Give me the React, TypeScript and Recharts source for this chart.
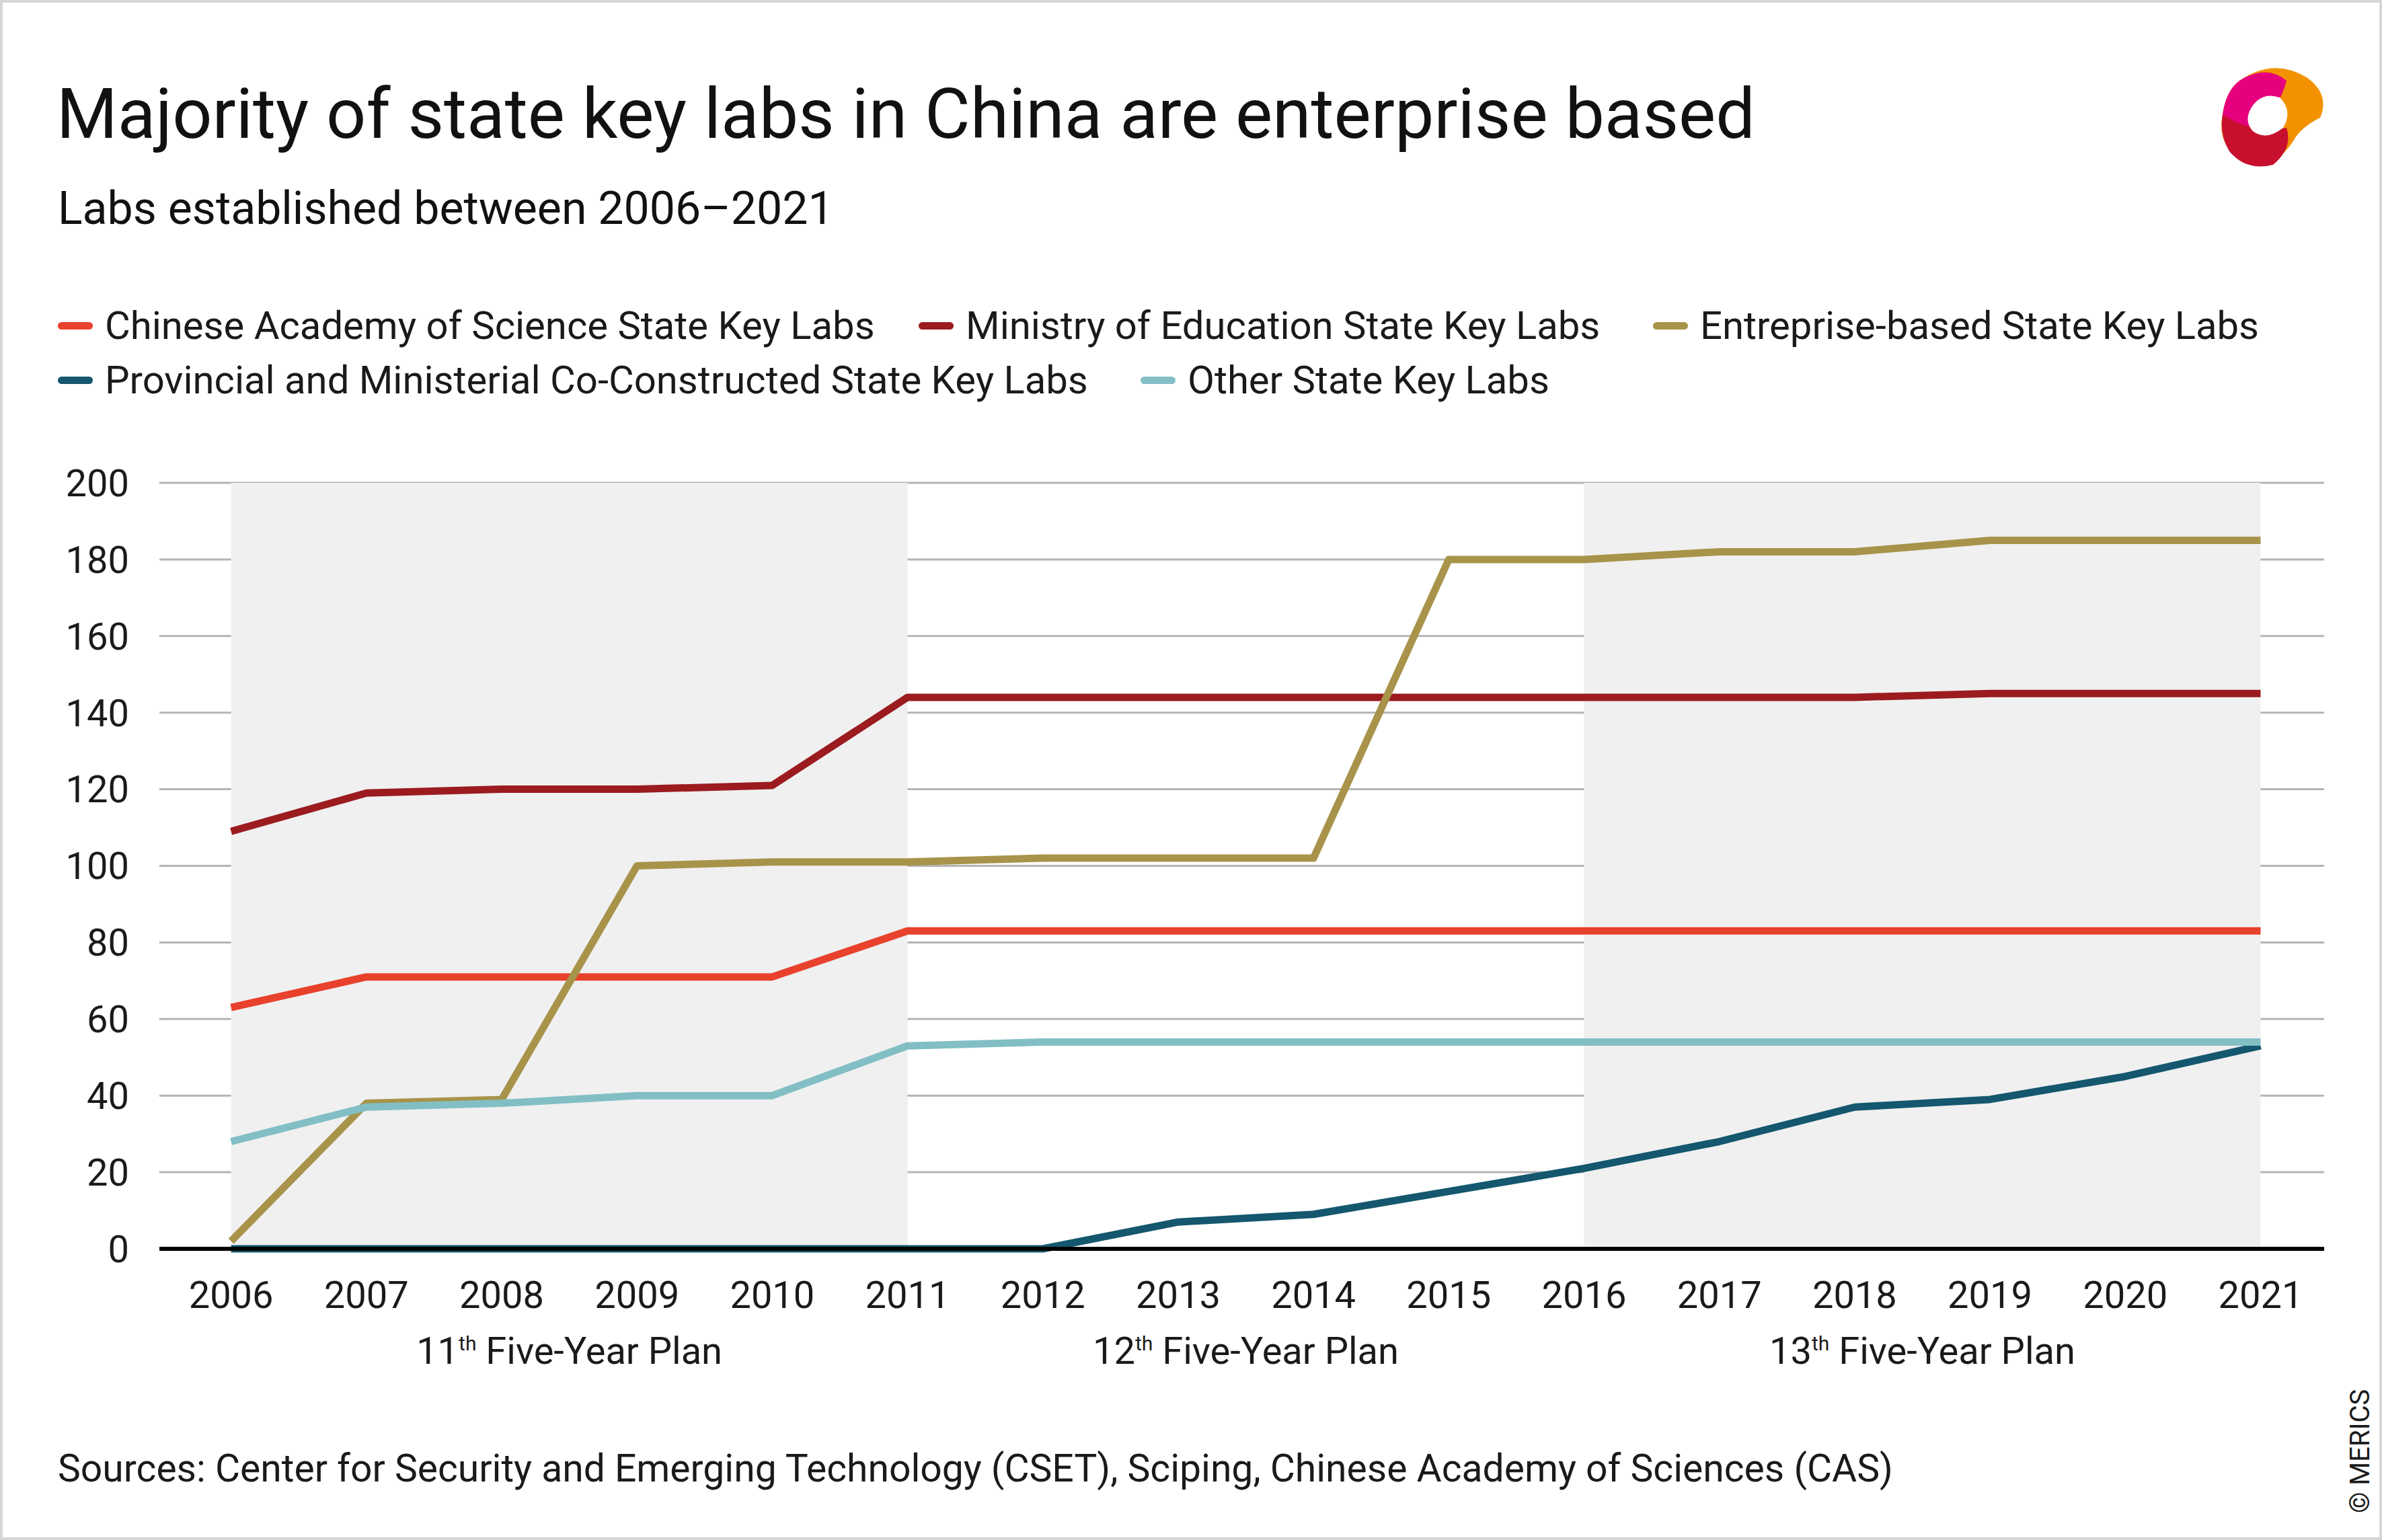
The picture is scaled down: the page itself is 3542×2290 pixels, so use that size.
import React from "react";
import { LineChart, Line, XAxis, YAxis, CartesianGrid, ReferenceArea } from "recharts";

const years = [2006, 2007, 2008, 2009, 2010, 2011, 2012, 2013, 2014, 2015, 2016, 2017, 2018, 2019, 2020, 2021];
const cas = [63, 71, 71, 71, 71, 83, 83, 83, 83, 83, 83, 83, 83, 83, 83, 83];
const moe = [109, 119, 120, 120, 121, 144, 144, 144, 144, 144, 144, 144, 144, 145, 145, 145];
const enterprise = [2, 38, 39, 100, 101, 101, 102, 102, 102, 180, 180, 182, 182, 185, 185, 185];
const provincial = [0, 0, 0, 0, 0, 0, 0, 7, 9, 15, 21, 28, 37, 39, 45, 53];
const other = [28, 37, 38, 40, 40, 53, 54, 54, 54, 54, 54, 54, 54, 54, 54, 54];
const yTicks = [0, 20, 40, 60, 80, 100, 120, 140, 160, 180, 200];

const series = [
  { key: "cas", name: "Chinese Academy of Science State Key Labs", color: "#e8412c" },
  { key: "moe", name: "Ministry of Education State Key Labs", color: "#9b1b1f" },
  { key: "ent", name: "Entreprise-based State Key Labs", color: "#a8934a" },
  { key: "prov", name: "Provincial and Ministerial Co-Constructed State Key Labs", color: "#14576e" },
  { key: "other", name: "Other State Key Labs", color: "#82bfc5" },
];

const data = years.map((y, i) => ({
  year: y, cas: cas[i], moe: moe[i], ent: enterprise[i], prov: provincial[i], other: other[i],
}));

const FONT = "Roboto, 'DejaVu Sans', sans-serif";
// x pixel for a year (plot spans 2005.47..2021.47 over 237..3456)
const xOf = (yr: number) => 237 + ((yr - 2005.47) / 16) * (3456 - 237);

function LegendItem({ s, x, y }: { s: typeof series[0]; x: number; y: number }) {
  return (
    <div style={{ position: "absolute", left: x, top: y, display: "flex", alignItems: "center", fontSize: 58, color: "#1a1a1a" }}>
      <div style={{ width: 52, height: 11, borderRadius: 6, background: s.color, marginRight: 18 }} />
      <span>{s.name}</span>
    </div>
  );
}

export default function App() {
  const plans = [
    { c: 2008.5, n: "11" },
    { c: 2013.5, n: "12" },
    { c: 2018.5, n: "13" },
  ];
  return (
    <div style={{ position: "absolute", left: 0, top: 0, width: 3542, height: 2290, background: "#fff", fontFamily: FONT, overflow: "hidden" }}>
      <div style={{ position: "absolute", inset: 0, border: "4px solid #d6d6d6", boxSizing: "border-box" }} />
      <div style={{ position: "absolute", left: 84, top: 118, fontSize: 104, color: "#111", lineHeight: 1 }}>
        Majority of state key labs in China are enterprise based
      </div>
      <div style={{ position: "absolute", left: 86, top: 276, fontSize: 68, color: "#111", lineHeight: 1 }}>
        Labs established between 2006–2021
      </div>
      <svg style={{ position: "absolute", left: 3290, top: 90 }} width="180" height="170" viewBox="0 0 180 170">
        <path d="M40 30 Q90 -5 140 25 Q175 50 160 85 Q130 100 120 120 Q90 165 50 150 Q5 130 15 80 Q20 45 40 30Z" fill="#f39200" />
        <path d="M40 30 Q80 5 110 30 Q100 70 60 110 Q20 120 15 80 Q20 45 40 30Z" fill="#e6007e" />
        <path d="M15 80 Q60 110 110 100 Q120 130 90 155 Q50 165 25 135 Q10 110 15 80Z" fill="#c8102e" />
        <path d="M55 75 Q70 45 100 55 Q120 75 105 100 Q80 120 60 105 Q48 92 55 75Z" fill="#fff" />
      </svg>
      <LegendItem s={series[0]} x={86} y={450} />
      <LegendItem s={series[1]} x={1366} y={450} />
      <LegendItem s={series[2]} x={2458} y={450} />
      <LegendItem s={series[3]} x={86} y={531} />
      <LegendItem s={series[4]} x={1696} y={531} />
      <div style={{ position: "absolute", left: 0, top: 0 }}>
        <LineChart width={3542} height={2290} data={data} margin={{ top: 718, bottom: 403, left: 0, right: 86 }}>
          <ReferenceArea x1={2006} x2={2011} y1={0} y2={200} fill="#f0f0f0" fillOpacity={1} stroke="none" />
          <ReferenceArea x1={2016} x2={2021} y1={0} y2={200} fill="#f0f0f0" fillOpacity={1} stroke="none" />
          <CartesianGrid vertical={false} stroke="#b4b4b4" strokeWidth={3} />
          <XAxis dataKey="year" type="number" domain={[2005.47, 2021.47]} ticks={years} axisLine={{ stroke: "#000", strokeWidth: 6 }}
            tickLine={false} tickSize={0} tickMargin={48} tick={{ fontSize: 56, fill: "#1a1a1a", fontFamily: FONT }} />
          <YAxis width={237} domain={[0, 200]} ticks={yTicks} axisLine={false} tickLine={false} tickSize={0} tickMargin={45}
            tick={{ fontSize: 56, fill: "#1a1a1a", fontFamily: FONT }} />
          {series.map((s) => (
            <Line key={s.key} dataKey={s.key} stroke={s.color} strokeWidth={11} dot={false} isAnimationActive={false} strokeLinejoin="round" />
          ))}
        </LineChart>
      </div>
      {plans.map((p) => (
        <div key={p.n} style={{ position: "absolute", left: xOf(p.c), top: 1976, transform: "translateX(-50%)", fontSize: 56, color: "#1a1a1a", whiteSpace: "nowrap" }}>
          {p.n}<sup style={{ fontSize: 30 }}>th</sup> Five-Year Plan
        </div>
      ))}
      <div style={{ position: "absolute", left: 86, top: 2150, fontSize: 57, color: "#1a1a1a" }}>
        Sources: Center for Security and Emerging Technology (CSET), Sciping, Chinese Academy of Sciences (CAS)
      </div>
      <div style={{ position: "absolute", left: 3486, top: 2250, transform: "rotate(-90deg)", transformOrigin: "left top", fontSize: 40, color: "#1a1a1a", whiteSpace: "nowrap" }}>
        © MERICS
      </div>
    </div>
  );
}
